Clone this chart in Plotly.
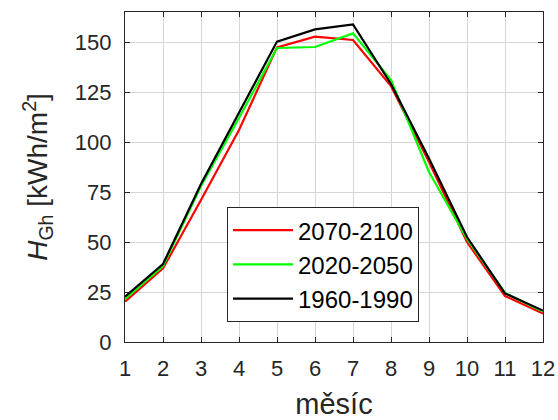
import plotly.graph_objects as go

months = list(range(1, 13))
s_2070 = [20.2, 36.8, 71, 106, 147.3, 152.7, 151, 128, 90, 50, 23, 14.3]
s_2020 = [21.5, 38, 78, 112, 147, 147.5, 154.3, 131, 85, 51.5, 24.5, 15.2]
s_1960 = [22.7, 39, 79, 114.5, 150.2, 156.3, 158.8, 129, 91.8, 52.5, 24.3, 15.7]
names = ["2070-2100", "2020-2050", "1960-1990"]
colors = ["#ff0000", "#00ff00", "#000000"]
y_ticks = [0, 25, 50, 75, 100, 125, 150]

FONT = "Liberation Sans, Arial, sans-serif"

fig = go.Figure()
for vals, nm, c in zip([s_2070, s_2020, s_1960], names, colors):
    fig.add_trace(go.Scatter(x=months, y=vals, mode="lines", name=nm,
                             line=dict(color=c, width=2.2)))

axis_common = dict(
    showline=True, linecolor="#262626", linewidth=1.3, mirror="allticks",
    ticks="inside", ticklen=5, tickcolor="#262626",
    showgrid=True, gridcolor="#d6d6d6", gridwidth=1,
    zeroline=False, automargin=False,
    tickfont=dict(family=FONT, size=22, color="#262626"),
)

fig.update_layout(
    width=558, height=420,
    margin=dict(l=125, r=15, t=12, b=78),
    paper_bgcolor="white", plot_bgcolor="white",
    font=dict(family=FONT, color="#262626"),
    xaxis=dict(range=[1, 12], tickmode="array", tickvals=months,
               title=dict(text="měsíc", font=dict(family=FONT, size=29, color="#262626"), standoff=14),
               ticklabelstandoff=6,
               **axis_common),
    yaxis=dict(range=[0, 165], tickmode="array", tickvals=y_ticks,
               title=dict(text="<i>H</i><sub>Gh</sub> [kWh/m<sup>2</sup>]",
                          font=dict(family=FONT, size=28, color="#262626"), standoff=18),
               ticklabelstandoff=8,
               **axis_common),
    legend=dict(x=0.244, y=0.409, xanchor="left", yanchor="top",
                bgcolor="white", bordercolor="#262626", borderwidth=1,
                font=dict(family=FONT, size=24, color="#000000"),
                tracegroupgap=0, itemwidth=60),
    showlegend=True,
)

fig.write_html("out.html")
